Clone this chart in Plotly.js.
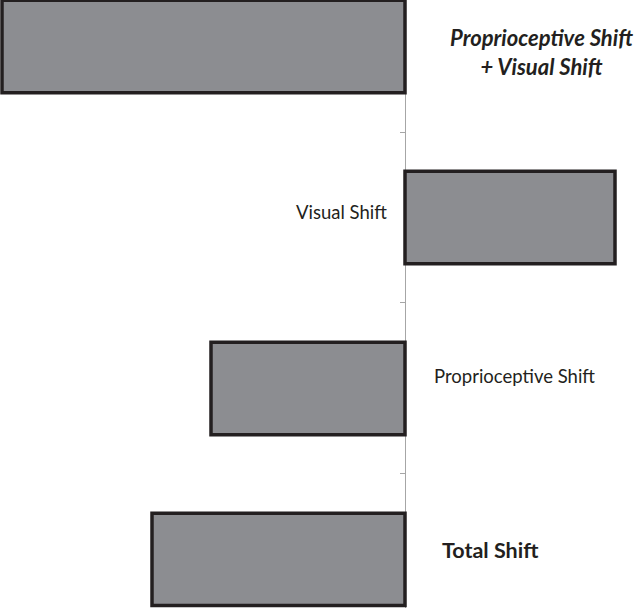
<!DOCTYPE html>
<html>
<head>
<meta charset="utf-8">
<script src="https://cdn.plot.ly/plotly-3.0.1.min.js"></script>
<style>
  html, body { margin: 0; padding: 0; background: #fff; }
  #chart { width: 636px; height: 608px; }
</style>
</head>
<body>
<div id="chart"></div>
<script>
  // categories top to bottom, values in arbitrary shift units
  const categories = ["Proprioceptive Shift + Visual Shift", "Visual Shift", "Proprioceptive Shift", "Total Shift"];
  const shiftValues = [-4.03, 2.10, -1.94, -2.53];
  const labelTexts = [
    "<b><i>Proprioceptive Shift<br>+ Visual Shift</i></b>",
    "Visual Shift",
    "Proprioceptive Shift",
    "<b>Total Shift</b>",
  ];

  const xRange = [-4.05, 2.31];
  const zeroPos = (0 - xRange[0]) / (xRange[1] - xRange[0]);

  const labelStyle = [
    { xanchor: "center", xshift: 136, yshift: -5, size: 22 },
    { xanchor: "right", xshift: -16, yshift: 5, size: 18.5 },
    { xanchor: "left", xshift: 27, yshift: 12, size: 18.5 },
    { xanchor: "left", xshift: 35, yshift: 9, size: 21.5 },
  ];

  const annotations = categories.map((cat, i) => ({
    x: 0,
    y: cat,
    xref: "x",
    yref: "y",
    text: labelTexts[i],
    showarrow: false,
    xanchor: labelStyle[i].xanchor,
    xshift: labelStyle[i].xshift,
    yshift: labelStyle[i].yshift,
    align: "center",
    font: { family: "Lato, 'Open Sans', sans-serif", size: labelStyle[i].size, color: "#231f20" },
  }));

  const trace = {
    type: "bar",
    orientation: "h",
    x: shiftValues,
    y: categories,
    marker: { color: "#8c8d91", line: { color: "#231f20", width: 3.5 } },
    hoverinfo: "skip",
  };

  const layout = {
    width: 636,
    height: 608,
    margin: { t: 0, r: 0, b: 0, l: 0 },
    paper_bgcolor: "#fff",
    plot_bgcolor: "#fff",
    showlegend: false,
    bargap: 0.46,
    xaxis: {
      range: xRange,
      showgrid: false,
      zeroline: false,
      showticklabels: false,
      showline: false,
      ticks: "",
    },
    yaxis: {
      type: "category",
      categoryorder: "array",
      categoryarray: categories,
      range: [3.284, -0.272],
      anchor: "free",
      position: zeroPos,
      showline: true,
      linecolor: "#a6a6a6",
      linewidth: 1.2,
      ticks: "outside",
      tickson: "boundaries",
      ticklen: 5,
      tickcolor: "#a6a6a6",
      tickwidth: 1,
      showticklabels: false,
      showgrid: false,
      layer: "below traces",
    },
    annotations,
  };

  Plotly.newPlot("chart", [trace], layout, { displayModeBar: false, staticPlot: true });
</script>
</body>
</html>
